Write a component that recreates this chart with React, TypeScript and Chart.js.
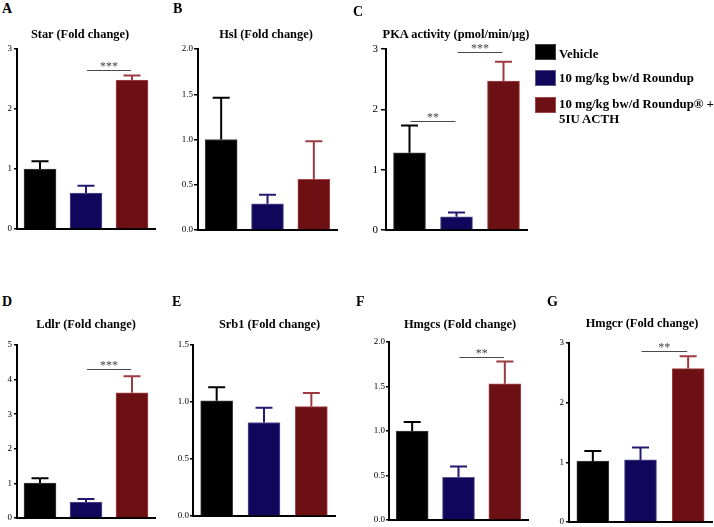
import React, { useEffect, useRef } from 'react';
import { Chart, registerables } from 'chart.js';

Chart.register(...registerables);

// ---------- data ----------
const groups = ['Vehicle', '10 mg/kg bw/d Roundup', '10 mg/kg bw/d Roundup® + 5IU ACTH'];
const legendLines = [['Vehicle'], ['10 mg/kg bw/d Roundup'], ['10 mg/kg bw/d Roundup® +', '5IU ACTH']];

const starMean = [1.0, 0.6, 2.48];
const starErr = [0.13, 0.12, 0.08];
const starTicks = ['0', '1', '2', '3'];
const starSig: [number, number, number, string][] = [[1, 2, 2.65, '***']];

const hslMean = [1.0, 0.29, 0.56];
const hslErr = [0.46, 0.1, 0.42];
const hslTicks = ['0.0', '0.5', '1.0', '1.5', '2.0'];
const hslSig: [number, number, number, string][] = [];

const pkaMean = [1.28, 0.22, 2.47];
const pkaErr = [0.45, 0.07, 0.32];
const pkaTicks = ['0', '1', '2', '3'];
const pkaSig: [number, number, number, string][] = [
  [0, 1, 1.81, '**'],
  [1, 2, 2.95, '***'],
];

const ldlrMean = [1.01, 0.46, 3.62];
const ldlrErr = [0.14, 0.09, 0.48];
const ldlrTicks = ['0', '1', '2', '3', '4', '5'];
const ldlrSig: [number, number, number, string][] = [[1, 2, 4.31, '***']];

const srb1Mean = [1.01, 0.82, 0.96];
const srb1Err = [0.12, 0.13, 0.12];
const srb1Ticks = ['0.0', '0.5', '1.0', '1.5'];
const srb1Sig: [number, number, number, string][] = [];

const hmgcsMean = [1.0, 0.48, 1.53];
const hmgcsErr = [0.1, 0.12, 0.25];
const hmgcsTicks = ['0.0', '0.5', '1.0', '1.5', '2.0'];
const hmgcsSig: [number, number, number, string][] = [[1, 2, 1.83, '**']];

const hmgcrMean = [1.02, 1.04, 2.57];
const hmgcrErr = [0.17, 0.21, 0.21];
const hmgcrTicks = ['0', '1', '2', '3'];
const hmgcrSig: [number, number, number, string][] = [[1, 2, 2.86, '**']];

// ---------- styles ----------
const FONT = "'Liberation Serif', 'Times New Roman', serif";
const fills = ['#000000', '#10065c', '#6d1013'];
const borders = ['#3c3c3c', '#5a5690', '#a4474c'];
const errColors = ['#000000', '#221a72', '#9c3b41'];

type Panel = {
  letter: string; lx: number; ly: number;
  title: string; tx: number; ty: number; tsize: number;
  box: [number, number, number, number];
  ticks: string[]; tickFont: number; tickLen: number; tickPad: number;
  mean: number[]; err: number[]; sig: [number, number, number, string][];
};

const panels: Panel[] = [
  { letter: 'A', lx: 2, ly: 1.5, title: 'Star (Fold change)', tx: 80, ty: 27.8, tsize: 12.4, box: [17, 49, 155, 229], ticks: starTicks, tickFont: 9, tickLen: 3, tickPad: 2, mean: starMean, err: starErr, sig: starSig },
  { letter: 'B', lx: 173, ly: 1.5, title: 'Hsl (Fold change)', tx: 266, ty: 27.8, tsize: 12.4, box: [198, 49, 337, 230], ticks: hslTicks, tickFont: 9, tickLen: 4, tickPad: 1, mean: hslMean, err: hslErr, sig: hslSig },
  { letter: 'C', lx: 353, ly: 5, title: 'PKA activity (pmol/min/μg)', tx: 456, ty: 27.8, tsize: 12.4, box: [386, 49, 527, 230], ticks: pkaTicks, tickFont: 11, tickLen: 5, tickPad: 3, mean: pkaMean, err: pkaErr, sig: pkaSig },
  { letter: 'D', lx: 2, ly: 295, title: 'Ldlr (Fold change)', tx: 86, ty: 317.8, tsize: 12.4, box: [17, 345, 155, 518], ticks: ldlrTicks, tickFont: 9, tickLen: 3, tickPad: 2, mean: ldlrMean, err: ldlrErr, sig: ldlrSig },
  { letter: 'E', lx: 172, ly: 295, title: 'Srb1 (Fold change)', tx: 269.5, ty: 317.8, tsize: 12.4, box: [193, 345, 335, 516], ticks: srb1Ticks, tickFont: 9, tickLen: 3, tickPad: 1, mean: srb1Mean, err: srb1Err, sig: srb1Sig },
  { letter: 'F', lx: 356, ly: 295, title: 'Hmgcs (Fold change)', tx: 460, ty: 317.8, tsize: 12.4, box: [389, 342, 528, 520], ticks: hmgcsTicks, tickFont: 9, tickLen: 3, tickPad: 1, mean: hmgcsMean, err: hmgcsErr, sig: hmgcsSig },
  { letter: 'G', lx: 547, ly: 294.5, title: 'Hmgcr (Fold change)', tx: 642, ty: 317.3, tsize: 12.4, box: [569, 343, 712, 522], ticks: hmgcrTicks, tickFont: 9, tickLen: 3, tickPad: 2, mean: hmgcrMean, err: hmgcrErr, sig: hmgcrSig },
];

const AXW = 34;
const PADT = 18;
const PADR = 4;
const PADB = 10;

const errorBarPlugin = {
  id: 'errorBars',
  afterDatasetsDraw(chart: any, _args: any, opts: any) {
    const ctx = chart.ctx;
    const meta = chart.getDatasetMeta(0);
    const values = chart.data.datasets[0].data as number[];
    const y = chart.scales.y;
    const errs: number[] = opts.errors || [];
    meta.data.forEach((bar: any, i: number) => {
      const top = y.getPixelForValue(values[i] + errs[i]);
      ctx.save();
      ctx.strokeStyle = errColors[i];
      ctx.lineWidth = 2;
      ctx.beginPath();
      ctx.moveTo(bar.x, bar.y);
      ctx.lineTo(bar.x, top);
      ctx.moveTo(bar.x - 8.5, top);
      ctx.lineTo(bar.x + 8.5, top);
      ctx.stroke();
      ctx.restore();
    });
    const sig: [number, number, number, string][] = opts.sig || [];
    sig.forEach(([a, b, v, label]) => {
      const x1 = meta.data[a].x + 1;
      const x2 = meta.data[b].x - 1;
      const yy = Math.round(y.getPixelForValue(v)) + 0.5;
      ctx.save();
      ctx.strokeStyle = '#4a4a4a';
      ctx.lineWidth = 1;
      ctx.beginPath();
      ctx.moveTo(x1, yy);
      ctx.lineTo(x2, yy);
      ctx.stroke();
      ctx.fillStyle = '#444444';
      ctx.font = `12px ${FONT}`;
      ctx.textAlign = 'center';
      ctx.textBaseline = 'alphabetic';
      ctx.fillText(label, (x1 + x2) / 2, yy - 1);
      ctx.restore();
    });
  },
};

function BarPanel({ p }: { p: Panel }) {
  const ref = useRef<HTMLCanvasElement>(null);
  const [L, T, R, B] = p.box;
  const width = AXW + (R - L) + PADR;
  const height = PADT + (B - T) + PADB;
  useEffect(() => {
    const max = parseFloat(p.ticks[p.ticks.length - 1]);
    const step = parseFloat(p.ticks[1]);
    const chart = new Chart(ref.current as HTMLCanvasElement, {
      type: 'bar',
      data: {
        labels: groups,
        datasets: [
          {
            data: p.mean,
            backgroundColor: fills,
            borderColor: borders,
            borderWidth: 1,
            barThickness: 32,
          },
        ],
      },
      options: {
        responsive: false,
        animation: false,
        devicePixelRatio: 1,
        layout: { padding: { left: 0, right: PADR, top: PADT, bottom: 0 } },
        plugins: {
          legend: { display: false },
          tooltip: { enabled: false },
          title: { display: false },
          errorBars: { errors: p.err, sig: p.sig },
        } as any,
        scales: {
          x: {
            grid: { display: true, drawOnChartArea: false, drawTicks: false },
            ticks: { display: false },
            border: { display: true, color: '#000', width: 2 },
            afterFit: (s: any) => { s.height = PADB; },
          },
          y: {
            min: 0,
            max,
            ticks: {
              stepSize: step,
              color: '#000',
              padding: p.tickPad,
              font: { family: FONT, size: p.tickFont },
              callback: (_v: any, i: number) => p.ticks[i],
            },
            grid: { drawOnChartArea: false, drawTicks: true, tickLength: p.tickLen, color: '#000', lineWidth: 1.5 },
            border: { display: true, color: '#000', width: 2 },
            afterFit: (s: any) => { s.width = AXW; },
          },
        },
      } as any,
      plugins: [errorBarPlugin],
    });
    return () => chart.destroy();
  }, []);
  return (
    <>
      <canvas
        ref={ref}
        width={width}
        height={height}
        style={{ position: 'absolute', left: L - AXW, top: T - PADT, width, height }}
      />
      <div style={{ position: 'absolute', left: p.lx, top: p.ly, font: `bold 14px ${FONT}`, lineHeight: 1, whiteSpace: 'nowrap' }}>{p.letter}</div>
      <div style={{ position: 'absolute', left: p.tx, top: p.ty, transform: 'translateX(-50%)', font: `bold ${p.tsize}px ${FONT}`, lineHeight: 1, whiteSpace: 'nowrap' }}>{p.title}</div>
    </>
  );
}

const legendTops = [46.7, 71.4, 97];
const legendBoxTops = [44, 70, 97];

export default function App() {
  return (
    <div style={{ position: 'absolute', left: 0, top: 0, width: 714, height: 527, overflow: 'hidden', background: '#fff', color: '#000', fontFamily: FONT }}>
      {panels.map((p) => (
        <BarPanel key={p.letter} p={p} />
      ))}
      {groups.map((g, i) => (
        <React.Fragment key={g}>
          <div style={{ position: 'absolute', left: 535, top: legendBoxTops[i], width: 21, height: 16, boxSizing: 'border-box', background: fills[i], border: `1px solid ${borders[i]}` }} />
          <div style={{ position: 'absolute', left: 559, top: legendTops[i], font: `bold 12.8px ${FONT}`, lineHeight: '15px', whiteSpace: 'nowrap' }}>
            {legendLines[i].map((line, j) => (
              <div key={j}>{line}</div>
            ))}
          </div>
        </React.Fragment>
      ))}
    </div>
  );
}
